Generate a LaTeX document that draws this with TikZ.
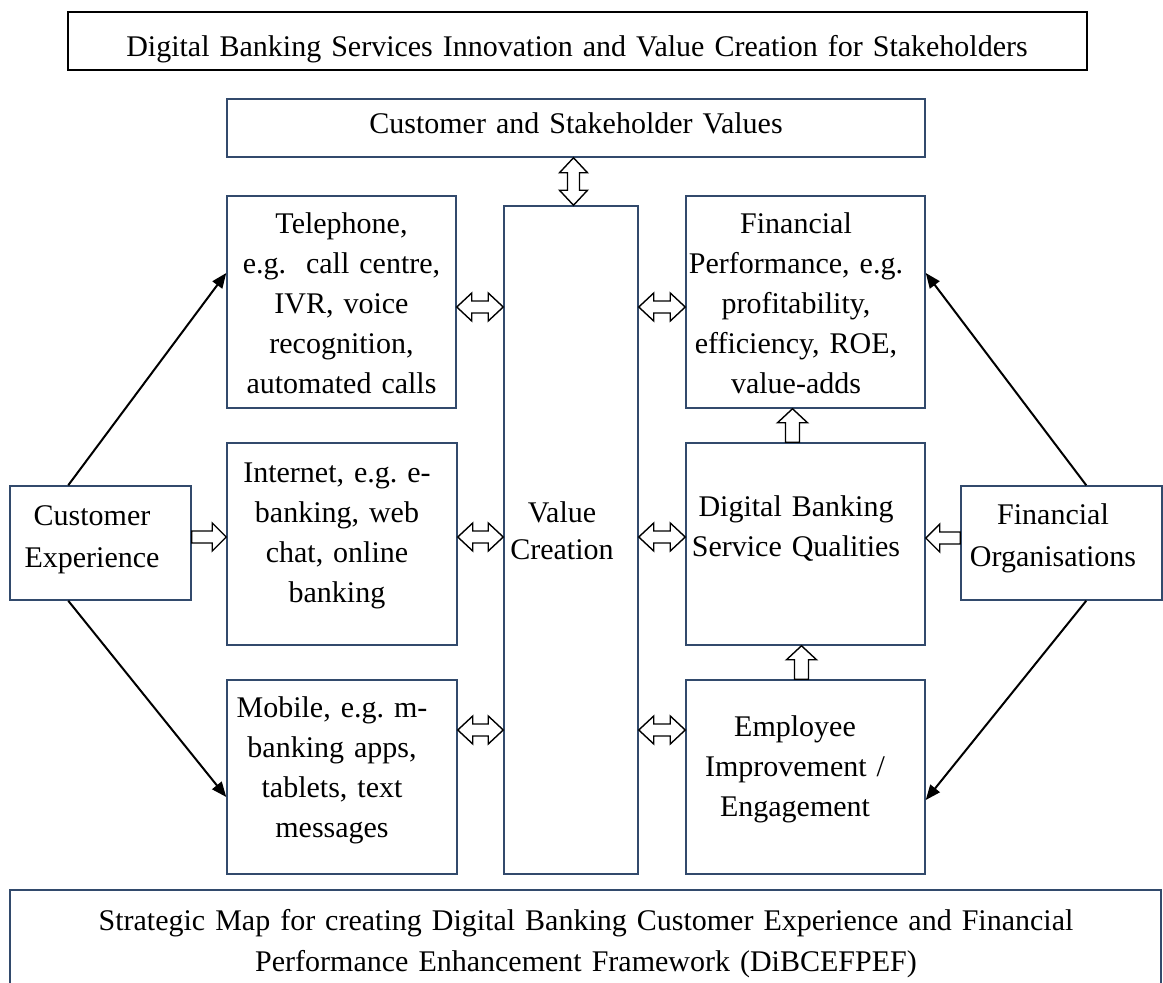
\documentclass[tikz,border=0pt]{standalone}
\usepackage{fontspec}
\setmainfont{Liberation Serif}
\usetikzlibrary{arrows.meta,calc}
\definecolor{boxblue}{RGB}{50,74,108}
% hollow block arrows
\newcommand\dblH[2]{\draw[blk] (#1) -- ++(15,-14) -- ++(0,8) -- ($(#2)+(-15,-6)$) -- ++(0,-8) -- (#2) -- ++(-15,14) -- ++(0,-8) -- ($(#1)+(15,6)$) -- ++(0,8) -- cycle;}
\newcommand\dblV[2]{\draw[blk] (#1) -- ++(-14,15) -- ++(8,0) -- ($(#2)+(-6,-15)$) -- ++(-8,0) -- (#2) -- ++(14,-15) -- ++(-8,0) -- ($(#1)+(6,15)$) -- ++(8,0) -- cycle;}
\newcommand\sglR[2]{\draw[blk] ($(#1)+(0,-6)$) -- ($(#2)+(-14,-6)$) -- ++(0,-8) -- (#2) -- ++(-14,14) -- ++(0,-8) -- ($(#1)+(0,6)$) -- cycle;}
\newcommand\sglL[2]{\draw[blk] ($(#1)+(0,-6)$) -- ($(#2)+(14,-6)$) -- ++(0,-8) -- (#2) -- ++(14,14) -- ++(0,-8) -- ($(#1)+(0,6)$) -- cycle;}
\newcommand\sglU[2]{\draw[blk] ($(#1)+(-7,0)$) -- ($(#2)+(-7,14)$) -- ++(-8,0) -- (#2) -- ++(15,14) -- ++(-8,0) -- ($(#1)+(7,0)$) -- cycle;}
\begin{document}
\frenchspacing
\begin{tikzpicture}[x=1pt,y=-1pt,
  box/.style={draw=boxblue,line width=1.5pt,inner sep=0,fill=white},
  txt/.style={font=\fontsize{30}{40}\selectfont,align=center,inner sep=0,anchor=base,text width=#1},
  txt/.default=400pt,
  blk/.style={draw=black,line width=1.4pt,fill=white,line join=miter},
  thinarrow/.style={draw=black,line width=2pt,-{Triangle[length=15pt,width=12pt]}}]
\useasboundingbox (0,0) rectangle (1163,983);

% boxes
\node[box,draw=black,line width=2pt,minimum width=1019pt,minimum height=58pt] (top) at (577.5,41) {};
\node[box,minimum width=698pt,minimum height=58pt] (csv) at (576,128) {};
\node[box,minimum width=134pt,minimum height=668pt] (vc) at (571,540) {};
\node[box,minimum width=229pt,minimum height=212pt] (tel) at (341.5,302) {};
\node[box,minimum width=230pt,minimum height=202pt] (int) at (342,544) {};
\node[box,minimum width=230pt,minimum height=194pt] (mob) at (342,777) {};
\node[box,minimum width=239pt,minimum height=212pt] (fp) at (805.5,302) {};
\node[box,minimum width=239pt,minimum height=202pt] (dbsq) at (805.5,544) {};
\node[box,minimum width=239pt,minimum height=194pt] (emp) at (805.5,777) {};
\node[box,minimum width=181pt,minimum height=114pt] (ce) at (100.5,543) {};
\node[box,minimum width=201pt,minimum height=114pt] (fo) at (1061.5,543) {};
\node[box,line width=2pt,minimum width=1151pt,minimum height=110pt] (bot) at (585.5,945) {};

% texts
\node[txt=1000pt] (topT) at (577,56) {Digital Banking Services Innovation and Value Creation for Stakeholders};
\node[txt=680pt] (csvT) at (576,133) {Customer and Stakeholder Values};
\node[txt] (telT) at (341.5,233) {Telephone,\\ e.g.\ \ call centre,\\ IVR, voice\\ recognition,\\ automated calls};
\node[txt] (fpT) at (796,233) {Financial\\ Performance, e.g.\\ profitability,\\ efficiency, ROE,\\ value-adds};
\node[txt] (intT) at (337,482) {Internet, e.g. e-\\ banking, web\\ chat, online\\ banking};
\node[txt,font=\fontsize{30}{37}\selectfont] (vcT) at (562,522) {Value\\ Creation};
\node[txt] (dbsqT) at (796,516) {Digital Banking\\ Service Qualities};
\node[txt,font=\fontsize{30}{42}\selectfont] (ceT) at (92,525) {Customer\\ Experience};
\node[txt,font=\fontsize{30}{42}\selectfont] (foT) at (1053,524) {Financial\\ Organisations};
\node[txt] (mobT) at (332,717) {Mobile, e.g. m-\\ banking apps,\\ tablets, text\\ messages};
\node[txt] (empT) at (795,736) {Employee\\ Improvement /\\ Engagement};
\node[txt=1150pt,font=\fontsize{30}{41}\selectfont] (botT) at (586,930) {Strategic Map for creating Digital Banking Customer Experience and Financial\\ Performance Enhancement Framework (DiBCEFPEF)};

% black arrows
\draw[thinarrow] ([xshift=59pt]ce.north west) -- ([yshift=29pt]tel.west);
\draw[thinarrow] ([xshift=59pt]ce.south west) -- ([yshift=-20pt]mob.west);
\draw[thinarrow] ([xshift=126pt]fo.north west) -- ([yshift=29pt]fp.east);
\draw[thinarrow] ([xshift=126pt]fo.south west) -- ([yshift=-23pt]emp.east);

% block arrows
\coordinate (a1) at ($(tel.east)+(0,5)$);
\coordinate (a2) at (a1 -| vc.west);
\coordinate (a3) at (a1 -| vc.east);
\coordinate (a4) at (a1 -| fp.west);
\coordinate (b1) at ($(int.east)+(0,-7)$);
\coordinate (b2) at (b1 -| vc.west);
\coordinate (b3) at (b1 -| vc.east);
\coordinate (b4) at (b1 -| dbsq.west);
\coordinate (c1) at ($(mob.east)+(0,-47)$);
\coordinate (c2) at (c1 -| vc.west);
\coordinate (c3) at (c1 -| vc.east);
\coordinate (c4) at (c1 -| emp.west);
\dblH{a1}{a2}\dblH{a3}{a4}
\dblH{b1}{b2}\dblH{b3}{b4}
\dblH{c1}{c2}\dblH{c3}{c4}
\coordinate (v1) at ($(vc.north |- csv.south)+(2.5,0)$);
\coordinate (v2) at ($(vc.north)+(2.5,0)$);
\dblV{v1}{v2}
\coordinate (e1) at ($(ce.east)+(0,-6)$);
\coordinate (e2) at (e1 -| int.west);
\sglR{e1}{e2}
\coordinate (f1) at ($(fo.west)+(0,-5)$);
\coordinate (f2) at (f1 -| dbsq.east);
\sglL{f1}{f2}
\coordinate (g1) at ($(dbsq.north)+(-13,0)$);
\coordinate (g2) at (g1 |- fp.south);
\sglU{g1}{g2}
\coordinate (h1) at ($(emp.north)+(-4,0)$);
\coordinate (h2) at (h1 |- dbsq.south);
\sglU{h1}{h2}
\end{tikzpicture}
\end{document}
